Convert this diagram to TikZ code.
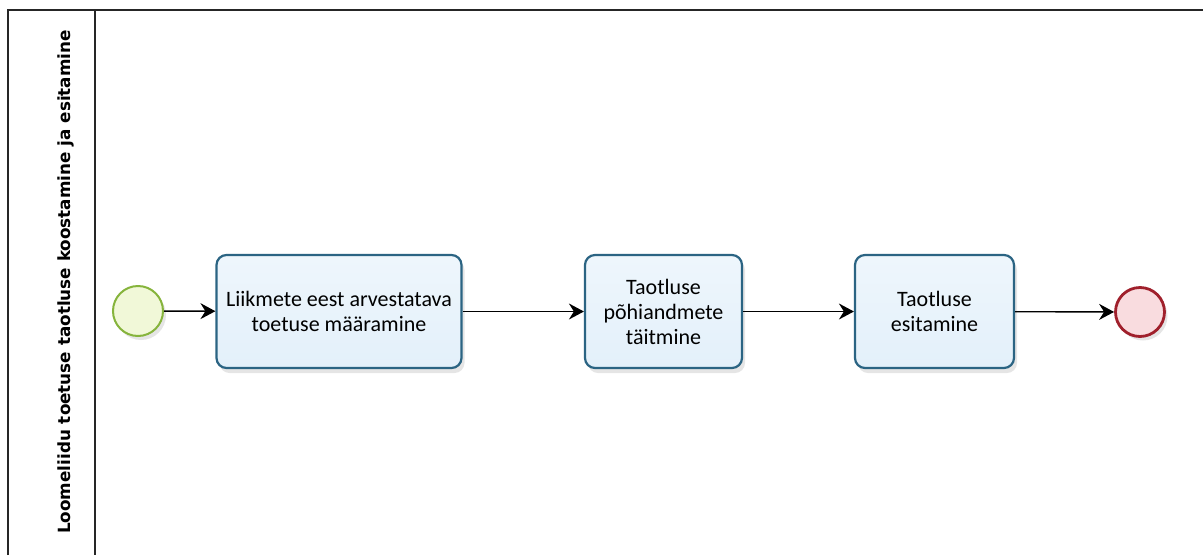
\documentclass[tikz,border=0pt]{standalone}
\usepackage{fontspec}
\setmainfont{Carlito}
\newfontfamily\titlefont{DejaVu Sans}
\usetikzlibrary{arrows.meta,shadows}
\definecolor{taskfill}{HTML}{E3F0FA}
\definecolor{taskdraw}{HTML}{2B6483}
\definecolor{startfill}{HTML}{F1F8D8}
\definecolor{startdraw}{HTML}{86B43C}
\definecolor{endfill}{HTML}{F9DCDF}
\definecolor{enddraw}{HTML}{A0202C}
\tikzset{
  x=1pt,y=-1pt,
  task/.style={draw=taskdraw,line width=2.2pt,top color=white!40!taskfill,bottom color=taskfill,rounded corners=10pt,
    drop shadow={opacity=0.2,shadow xshift=3pt,shadow yshift=-5pt},
    align=center,font=\fontsize{22}{25}\selectfont,inner sep=0pt},
  startev/.style={circle,draw=startdraw,line width=2pt,fill=startfill,minimum size=50pt,inner sep=0pt,
    drop shadow={opacity=0.2,shadow xshift=3pt,shadow yshift=-4pt}},
  endev/.style={circle,draw=enddraw,line width=2.8pt,fill=endfill,minimum size=49pt,inner sep=0pt,
    drop shadow={opacity=0.2,shadow xshift=3pt,shadow yshift=-4pt}},
  flow/.style={line width=1.4pt,-{Stealth[length=15pt,width=16pt,inset=5pt]}},
  pool/.style={line width=1.8pt,draw=black!85}
}
\begin{document}
\begin{tikzpicture}
\useasboundingbox[fill=white] (0,0) rectangle (1203,555);
\coordinate (ptl) at (8,10);
\coordinate (ptr) at (1203,10);
\coordinate (pbl) at (8,555);
\coordinate (dtop) at (95,10);
\coordinate (dbot) at (95,555);
\draw[pool] (pbl) -- (ptl) -- (ptr);
\draw[pool] (dtop) -- (dbot);
\node[rotate=90,font=\titlefont\bfseries\fontsize{16.8}{19}\selectfont] (title) at (66,282) {Loomeliidu toetuse taotluse koostamine ja esitamine};
\node[startev] (start) at (138,311) {};
\node[task,minimum width=245pt,minimum height=113pt] (t1) at (339,311.5) {Liikmete eest arvestatava\\toetuse määramine};
\node[task,minimum width=157pt,minimum height=113pt] (t2) at (663.5,311.5) {Taotluse\\põhiandmete\\täitmine};
\node[task,minimum width=159pt,minimum height=113pt] (t3) at (934.5,311.5) {Taotluse\\esitamine};
\node[endev] (end) at (1140,312) {};
\draw[flow] (start) -- (t1);
\draw[flow] (t1) -- (t2);
\draw[flow] (t2) -- (t3);
\draw[flow] (t3) -- (end);
\end{tikzpicture}
\end{document}
